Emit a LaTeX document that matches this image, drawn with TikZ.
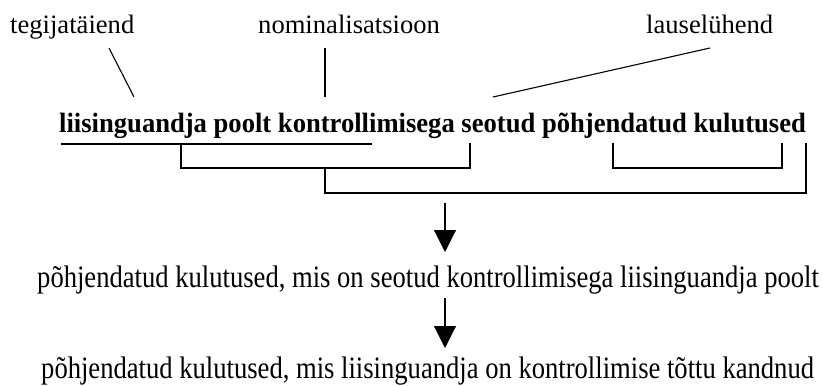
\documentclass[tikz,border=0pt]{standalone}
\usepackage{fontspec}
\setmainfont{Liberation Serif}
\usetikzlibrary{arrows.meta}
\newcommand{\paratext}[1]{\scalebox{1}[1.17]{#1}}
\newcommand{\boldtext}[1]{\scalebox{1}[1.05]{#1}}
\tikzset{
  lbl/.style={inner sep=0pt, anchor=base west, font=\fontsize{26.6}{30}\selectfont},
  bld/.style={inner sep=0pt, anchor=base west, font=\fontsize{26.6}{30}\selectfont\bfseries},
  ln/.style={line width=1.1pt, black},
  arr/.style={line width=1.1pt, black, -{Triangle[length=22pt,width=22pt]}}
}
\begin{document}
\begin{tikzpicture}[x=1pt,y=-1pt]
\useasboundingbox (0,0) rectangle (823,386);
% labels
\node[lbl] (teg) at (10,33) {tegijatäiend};
\node[lbl] (nom) at (258,33) {nominalisatsioon};
\node[lbl] (lau) at (646,33) {lauselühend};
% main sentence
\node[bld] (main) at (59,132) {\boldtext{liisinguandja poolt kontrollimisega seotud põhjendatud kulutused}};
% paraphrases
\node[lbl] (p1) at (37,287) {\paratext{põhjendatud kulutused, mis on seotud kontrollimisega liisinguandja poolt}};
\node[lbl] (p2) at (41,378) {\paratext{põhjendatud kulutused, mis liisinguandja on kontrollimise tõttu kandnud}};
% leader lines
\coordinate (t1) at (109,48); \coordinate (t2) at (134,97);
\coordinate (n1) at (325,48); \coordinate (n2) at (325,97);
\coordinate (l1) at (710,48); \coordinate (l2) at (493,97);
\draw[ln] (t1) -- (t2);
\draw[ln] (n1) -- (n2);
\draw[ln] (l1) -- (l2);
% underline
\coordinate (u1) at (61,144); \coordinate (u2) at (372,144);
\draw[ln] (u1) -- (u2);
% brackets
\coordinate (a1) at (181,144); \coordinate (a2) at (470,143);
\draw[ln] (a1) -- (181,168) -- (470,168) -- (a2);
\coordinate (b1) at (613,143); \coordinate (b2) at (782,143);
\draw[ln] (b1) -- (613,168) -- (782,168) -- (b2);
\coordinate (c1) at (325,168); \coordinate (c2) at (806,143);
\draw[ln] (c1) -- (325,193) -- (806,193) -- (c2);
% arrows
\coordinate (r1s) at (445,203); \coordinate (r1e) at (445,252);
\coordinate (r2s) at (445,298); \coordinate (r2e) at (445,348);
\draw[arr] (r1s) -- (r1e);
\draw[arr] (r2s) -- (r2e);
\end{tikzpicture}
\end{document}
